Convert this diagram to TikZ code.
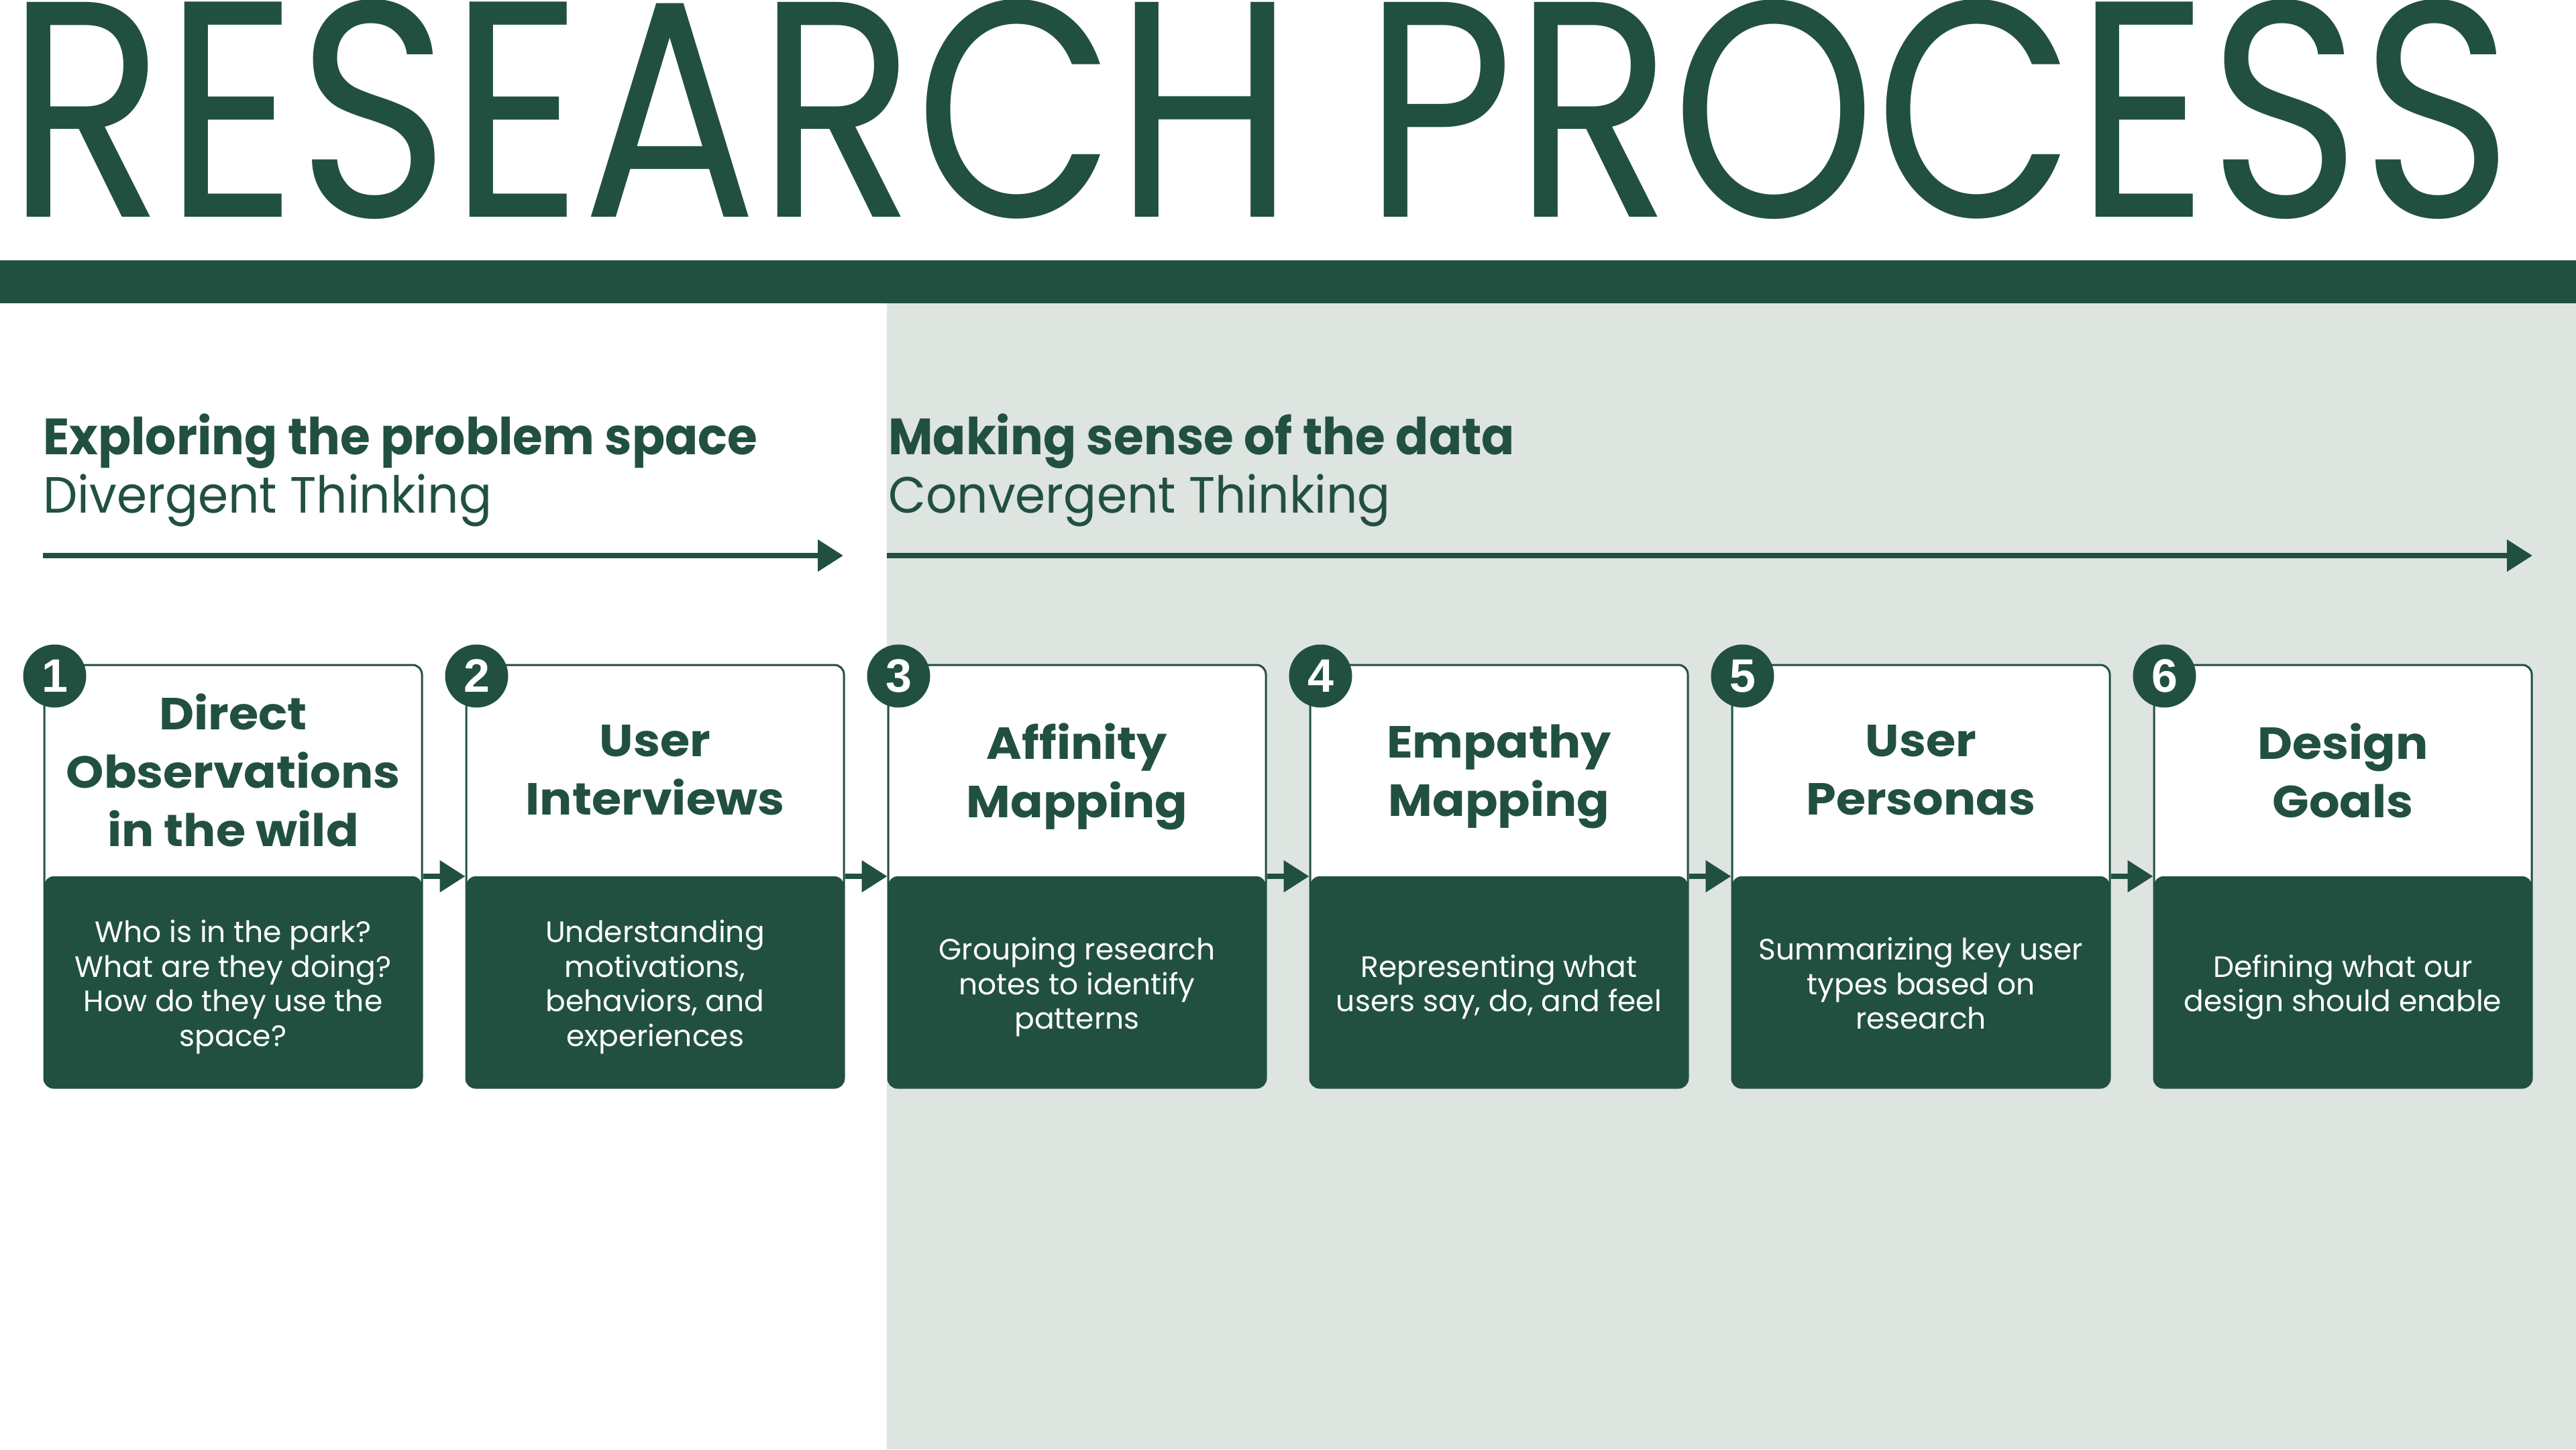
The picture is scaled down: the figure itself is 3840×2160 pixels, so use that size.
\documentclass[tikz,border=0pt]{standalone}
\usepackage{fontspec}
\setmainfont{Poppins}
\newfontfamily\digitfont{Liberation Sans}
\newfontfamily\cardfont[FakeStretch=1.07]{Poppins}
\newfontfamily\headfont[FakeStretch=0.955]{Poppins}
\usepackage{graphicx}
\usepackage{tikz}
\usetikzlibrary{arrows.meta,positioning}
\definecolor{pinegreen}{RGB}{33,80,65}
\definecolor{sagegray}{RGB}{222,228,224}

\begin{document}
\begin{tikzpicture}[x=1pt, y=-1pt, >={Triangle[length=38pt,width=46pt]},
    card/.style={draw=pinegreen, line width=3pt, fill=white, rounded corners=14pt,
      minimum width=563pt, minimum height=630pt, inner sep=0pt,
      path picture={\fill[pinegreen] (path picture bounding box.south west) rectangle (path picture bounding box.east);}},
    badge/.style={circle, fill=pinegreen, minimum size=94pt, inner sep=0pt, text=white,
      font=\digitfont\bfseries\fontsize{70}{70}\selectfont},
    steptitle/.style={align=center, inner sep=0pt, text=pinegreen,
      font=\cardfont\bfseries\fontsize{67}{87}\selectfont,
      execute at begin node=\strut, execute at end node=\strut},
    stepnote/.style={align=center, inner sep=0pt, text=white,
      font=\fontsize{44}{51.6}\selectfont,
      execute at begin node=\strut, execute at end node=\strut},
    heading/.style={anchor=base west, inner sep=0pt, text=pinegreen, font=\headfont\fontsize{76}{90}\selectfont},
    flow/.style={->, pinegreen, line width=8pt}]
  \useasboundingbox (0,0) rectangle (3840,2160);

  % Background and title band
  \fill[sagegray] (1322,452) rectangle (3840,2160);
  \fill[pinegreen] (0,388) rectangle (3840,452);
  \node[anchor=base west, inner sep=0pt, text=pinegreen] (title) at (10,323)
    {\resizebox{3730pt}{323pt}{RESEARCH PROCESS}};

  % Phases
  \node[heading] (explore) at (64,677) {\bfseries Exploring the problem space};
  \node[heading] (diverge) at (64,764) {Divergent Thinking};
  \node[heading] (sense) at (1324,677) {\bfseries Making sense of the data};
  \node[heading] (converge) at (1324,764) {Convergent Thinking};
  \coordinate (divstart) at (64,828);
  \coordinate (divend) at (1257,828);
  \coordinate (constart) at (1322,828);
  \coordinate (conend) at (3775,828);
  \draw[flow] (divstart) -- (divend);
  \draw[flow] (constart) -- (conend);

  % Steps
  \foreach \i/\name/\note in {
    1/{Direct\\Observations\\in the wild}/{Who is in the park?\\What are they doing?\\How do they use the\\space?},
    2/{User\\Interviews}/{Understanding\\motivations,\\behaviors, and\\experiences},
    3/{Affinity\\Mapping}/{Grouping research\\notes to identify\\patterns},
    4/{Empathy\\Mapping}/{Representing what\\users say, do, and feel},
    5/{User\\Personas}/{Summarizing key user\\types based on\\research},
    6/{Design\\Goals}/{Defining what our\\design should enable}} {
    \node[card] (card\i) at ({347.5+629*(\i-1)},1306) {};
    \node[steptitle] (name\i) at ([yshift=145pt]card\i.center) {\name};
    \node[stepnote] (note\i) at ([yshift=-167pt]card\i.center) {\note};
  }
  \foreach \i [evaluate=\i as \j using int(\i+1)] in {1,...,5}
    \draw[flow] (card\i) -- (card\j);
  \foreach \i in {1,...,6}
    \node[badge] (badge\i) at ([xshift=17pt,yshift=-18pt]card\i.north west) {\i};

\end{tikzpicture}
\end{document}
